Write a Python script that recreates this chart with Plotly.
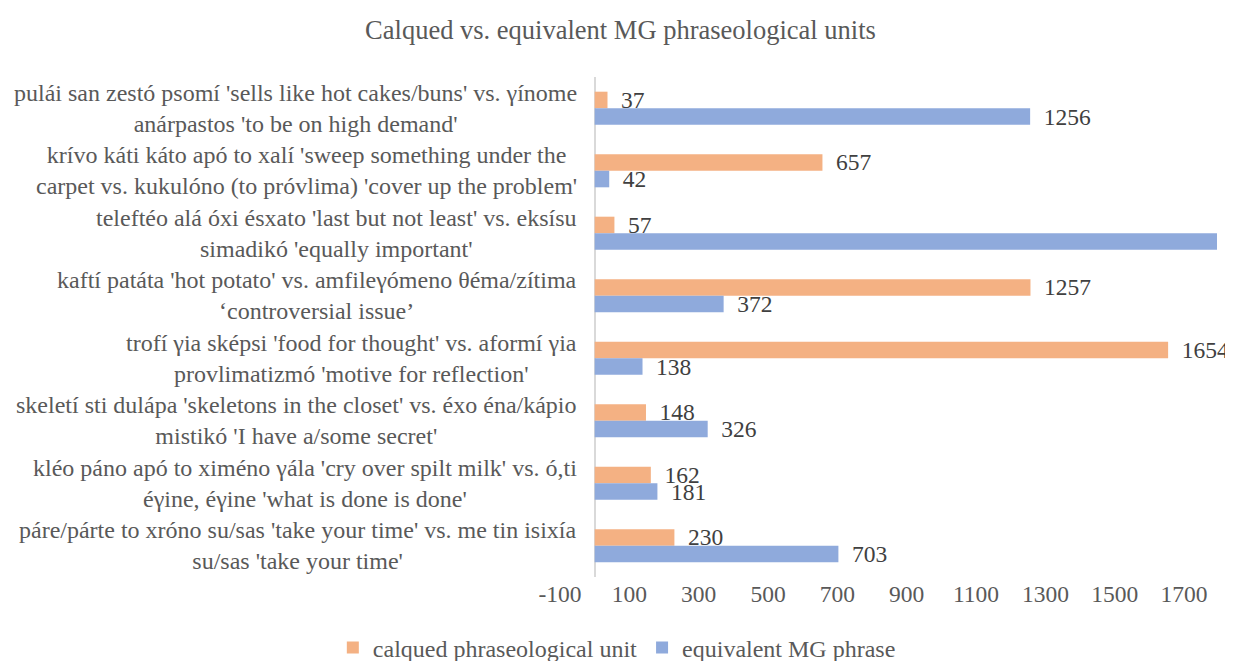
import plotly.graph_objects as go

# ── Data ──────────────────────────────────────────────────────────────────────
CATEGORIES = [
    "pulái san zestó psomí 'sells like hot cakes/buns' vs. γínome<br>anárpastos 'to be on high demand'",
    "krívo káti káto apó to xalí 'sweep something under the<br>carpet vs. kukulóno (to próvlima) 'cover up the problem'",
    "teleftéo alá óxi ésxato 'last but not least' vs. eksísu<br>simadikó 'equally important'",
    "kaftí patáta 'hot potato' vs. amfileγómeno θéma/zítima<br>‘controversial issue’",
    "trofí γia sképsi 'food for thought' vs. aformí γia<br>provlimatizmó 'motive for reflection'",
    "skeletí sti dulápa 'skeletons in the closet' vs. éxo éna/kápio<br>mistikó 'I have a/some secret'",
    "kléo páno apó to ximéno γála 'cry over spilt milk' vs. ó,ti<br>éγine, éγine 'what is done is done'",
    "páre/párte to xróno su/sas 'take your time' vs. me tin isixía<br>su/sas 'take your time'",
]
CALQUED = [37, 657, 57, 1257, 1654, 148, 162, 230]
EQUIVALENT = [1256, 42, 1800, 372, 138, 326, 181, 703]
TICKS = [-100, 100, 300, 500, 700, 900, 1100, 1300, 1500, 1700]

X_MIN, X_MAX = -100, 1795
ORANGE = "#F4B183"
BLUE = "#8FAADC"
GREY = "#595959"
FONT = "Liberation Serif, 'Times New Roman', serif"


def _labels(values):
    # bars running past the axis end get no data label (as in the source)
    return ["" if v >= X_MAX else "\u00a0\u2009" + str(v) for v in values]


fig = go.Figure()
fig.add_trace(go.Bar(
    name="calqued phraseological unit",
    y=CATEGORIES, x=CALQUED, orientation="h",
    marker=dict(color=ORANGE, line=dict(width=0)),
    text=_labels(CALQUED), textposition="outside",
    textfont=dict(size=23.5, color="#404040", family=FONT),
    constraintext="none", cliponaxis=False,
))
fig.add_trace(go.Bar(
    name="equivalent MG phrase",
    y=CATEGORIES, x=EQUIVALENT, orientation="h",
    marker=dict(color=BLUE, line=dict(width=0)),
    text=_labels(EQUIVALENT), textposition="outside",
    textfont=dict(size=23.5, color="#404040", family=FONT),
    constraintext="none", cliponaxis=True,
))

# category labels, centred line by line like Excel does
for cat in CATEGORIES:
    fig.add_annotation(
        x=0, y=cat, xref="x", yref="y",
        text=cat, showarrow=False,
        xanchor="right", yanchor="middle", align="center",
        xshift=-16,
        font=dict(size=24, color=GREY, family=FONT),
    )

# the page body has an 8px margin, so the figure is 8px smaller than the window
fig.update_layout(
    width=1225, height=653,
    paper_bgcolor="white", plot_bgcolor="white",
    font=dict(family=FONT, color=GREY, size=24),
    title=dict(text="Calqued vs. equivalent MG phraseological units",
               x=0.5, xanchor="center", y=0.966, yanchor="middle",
               font=dict(size=26.5, color=GREY, family=FONT)),
    margin=dict(l=552, r=16, t=69, b=84, autoexpand=False),
    barmode="group", bargap=0.47, bargroupgap=0,
    showlegend=True,
    legend=dict(orientation="h", x=0.497, xanchor="center", xref="container",
                y=0.02, yanchor="middle", yref="container",
                font=dict(size=24, color=GREY, family=FONT),
                itemwidth=30, traceorder="normal"),
    xaxis=dict(range=[X_MIN, X_MAX], tickmode="array",
               tickvals=TICKS, ticktext=[str(t) for t in TICKS],
               showgrid=False, showline=False, ticks="",
               zeroline=True, zerolinecolor="#D9D9D9", zerolinewidth=2,
               tickfont=dict(size=23.5, color=GREY, family=FONT)),
    yaxis=dict(autorange="reversed", showticklabels=False, showgrid=False,
               showline=False, ticks="", zeroline=False),
)

fig.write_html("out.html")
